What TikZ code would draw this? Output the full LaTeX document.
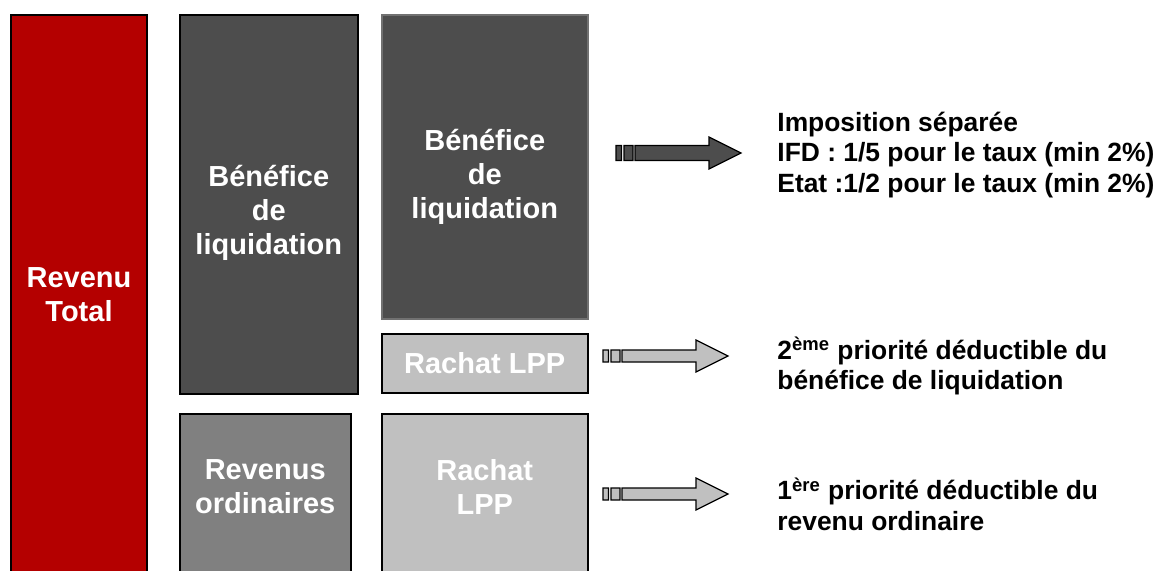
\documentclass[tikz,border=0pt]{standalone}
\usepackage{fontspec}
\setmainfont{Liberation Sans}
\usetikzlibrary{positioning}

\definecolor{revred}{HTML}{B40000}
\definecolor{darkbox}{HTML}{4D4D4D}
\definecolor{midbox}{HTML}{808080}
\definecolor{lightbox}{HTML}{C0C0C0}

% striped block arrow: x of tail, y of axis, half shaft, fill
\newcommand{\bararrow}[4]{%
  \filldraw[fill=#4, draw=black, line width=0.6pt]
    (#1,#2-#3) rectangle (#1+5.5,#2+#3)
    (#1+8,#2-#3) rectangle (#1+17,#2+#3)
    (#1+19,#2-#3) -- (#1+93,#2-#3) -- (#1+93,#2-16) -- (#1+125,#2)
      -- (#1+93,#2+16) -- (#1+93,#2+#3) -- (#1+19,#2+#3) -- cycle;}

\begin{document}
\begin{tikzpicture}[x=0.5pt, y=-0.5pt,
    box/.style={draw=black, line width=0.75pt, anchor=north west, inner sep=0pt},
    boxtext/.style={text=white, align=center, inner sep=0pt,
                    font=\bfseries\fontsize{14.5}{17}\selectfont},
    note/.style={anchor=west, align=left, inner sep=0pt,
                 font=\bfseries\fontsize{13.2}{15.25}\selectfont}]

    \useasboundingbox (0,0) rectangle (1159,570);
    \clip (0,0) rectangle (1159,570);

    % blocks
    \node[box, fill=revred, line width=1pt, minimum width=68pt, minimum height=279pt]
        (total)   at (10,14)   {};
    \node[box, fill=darkbox, minimum width=89pt, minimum height=189.5pt]
        (liqa)    at (179,14)  {};
    \node[box, fill=darkbox, draw=darkbox!80!white, minimum width=103pt, minimum height=152pt]
        (liqb)    at (381,14)  {};
    \node[box, fill=lightbox, minimum width=103pt, minimum height=29.5pt]
        (lppa)    at (381,333) {};
    \node[box, fill=midbox, minimum width=85.5pt, minimum height=79.5pt]
        (ordin)   at (179,413) {};
    \node[box, fill=lightbox, minimum width=103pt, minimum height=79.5pt]
        (lppb)    at (381,413) {};

    % block texts
    \node[boxtext] (totaltxt) at ([yshift=-0.5pt]total.center)  {Revenu\\Total};
    \node[boxtext] (liqatxt)  at ([yshift=-4.25pt]liqa.center)  {Bénéfice\\de\\liquidation};
    \node[boxtext] (liqbtxt)  at ([yshift=-5pt]liqb.center)     {Bénéfice\\de\\liquidation};
    \node[boxtext] (lppatxt)  at (lppa.center)                  {Rachat LPP};
    \node[boxtext] (ordintxt) at ([yshift=3.25pt]ordin.center)  {Revenus\\ordinaires};
    \node[boxtext] (lppbtxt)  at ([yshift=3.25pt]lppb.center)   {Rachat\\LPP};

    % arrows
    \bararrow{616}{153}{7.5}{darkbox}
    \bararrow{603}{356}{6}{lightbox}
    \bararrow{603}{494}{6}{lightbox}

    % notes
    \node[note] (sep)   at (777,155) {Imposition séparée\\IFD : 1/5 pour le taux (min 2\%)\\Etat :1/2 pour le taux (min 2\%)};
    \node[note] (prio2) at (777,366) {2\textsuperscript{ème} priorité déductible du\\bénéfice de liquidation};
    \node[note] (prio1) at (777,504) {1\textsuperscript{ère} priorité déductible du\\revenu ordinaire};

\end{tikzpicture}
\end{document}
